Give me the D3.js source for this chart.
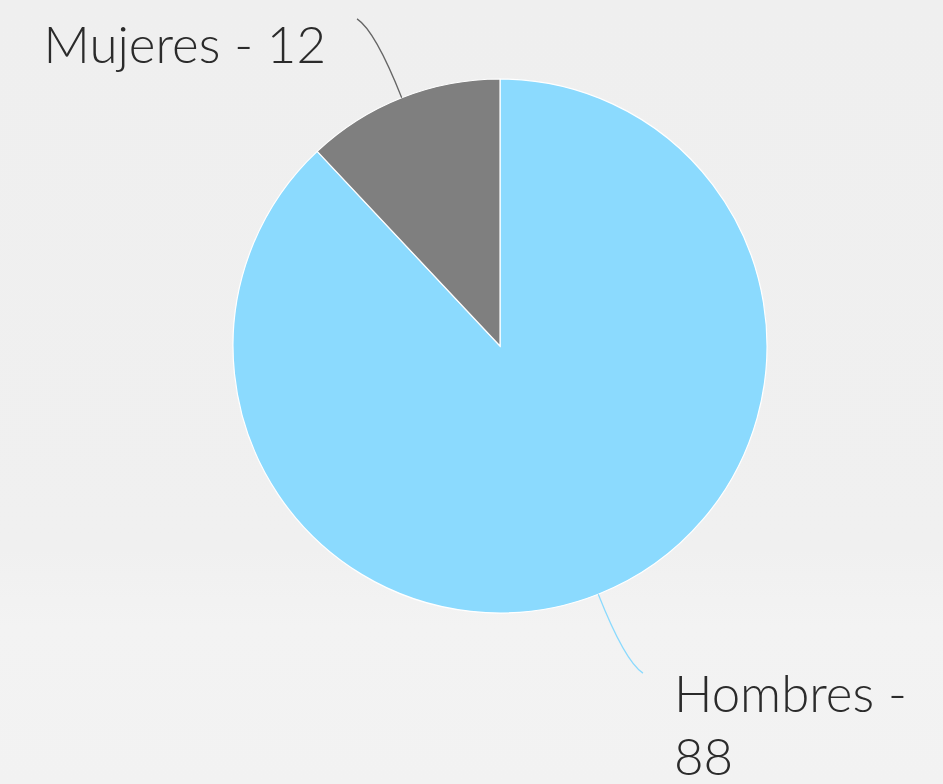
<!DOCTYPE html>
<html>
<head>
<meta charset="utf-8">
<script src="https://cdn.jsdelivr.net/npm/d3@7"></script>
<style>
  body { margin: 0; background: #f0f0f0; }
  svg { display: block; }
</style>
</head>
<body>
<svg id="pie"></svg>
<script>
// data
const labels = ["Hombres", "Mujeres"];
const values = [88, 12];
const colors = ["#8bdafe", "#7f7f7f"];

const width = 943, height = 784;
const cx = 500, cy = 346, radius = 267;

const svg = d3.select("#pie").attr("width", width).attr("height", height);

// soft background
const defs = svg.append("defs");
const grad = defs.append("linearGradient").attr("id", "bg").attr("x1", 0).attr("y1", 0).attr("x2", 0).attr("y2", 1);
grad.append("stop").attr("offset", "0%").attr("stop-color", "#efefef");
grad.append("stop").attr("offset", "70%").attr("stop-color", "#f0f0f0");
grad.append("stop").attr("offset", "80%").attr("stop-color", "#f3f3f3");
grad.append("stop").attr("offset", "100%").attr("stop-color", "#f2f2f2");
svg.append("rect").attr("width", width).attr("height", height).attr("fill", "url(#bg)");

const data = labels.map((l, i) => ({ label: l, value: values[i], color: colors[i] }));

const pie = d3.pie().sort(null).value((d) => d.value);
const arc = d3.arc().innerRadius(0).outerRadius(radius);

const g = svg.append("g").attr("transform", `translate(${cx}, ${cy})`);
const arcs = pie(data);

g.selectAll(".slice")
  .data(arcs)
  .enter()
  .append("path")
  .attr("class", "slice")
  .attr("d", arc)
  .attr("fill", (d) => d.data.color)
  .attr("stroke", "#ffffff")
  .attr("stroke-width", 1.2);

// polar helper, angle measured clockwise from 12 o'clock
const polar = (r, a) => [r * Math.sin(a), -r * Math.cos(a)];

arcs.forEach((d) => {
  const mid = (d.startAngle + d.endAngle) / 2;
  const side = Math.sin(mid) >= 0 ? 1 : -1;
  const p0 = polar(radius, mid);
  const knee = polar(radius + 72, mid);
  const end = polar(radius + 90, mid - 0.035);

  g.append("path")
    .attr("d", `M${p0[0]},${p0[1]} Q${knee[0]},${knee[1]} ${end[0]},${end[1]}`)
    .attr("fill", "none")
    .attr("stroke", d.data.color === "#7f7f7f" ? "#666666" : d.data.color)
    .attr("stroke-width", 1.3);

  const text = g.append("text")
    .attr("font-family", "Lato, 'Open Sans', sans-serif")
    .attr("font-weight", 300)
    .attr("font-size", 51)
    .attr("fill", "#2b2b2b")
    .attr("text-anchor", side > 0 ? "start" : "end")
    .attr("x", end[0] + side * 31)
    .attr("y", end[1] + (side > 0 ? 39 : 44));

  if (side > 0) {
    text.append("tspan").text(`${d.data.label} -`);
    text.append("tspan").attr("x", end[0] + side * 31).attr("dy", 63).text(d.data.value);
  } else {
    text.text(`${d.data.label} - ${d.data.value}`);
  }
});
</script>
</body>
</html>
